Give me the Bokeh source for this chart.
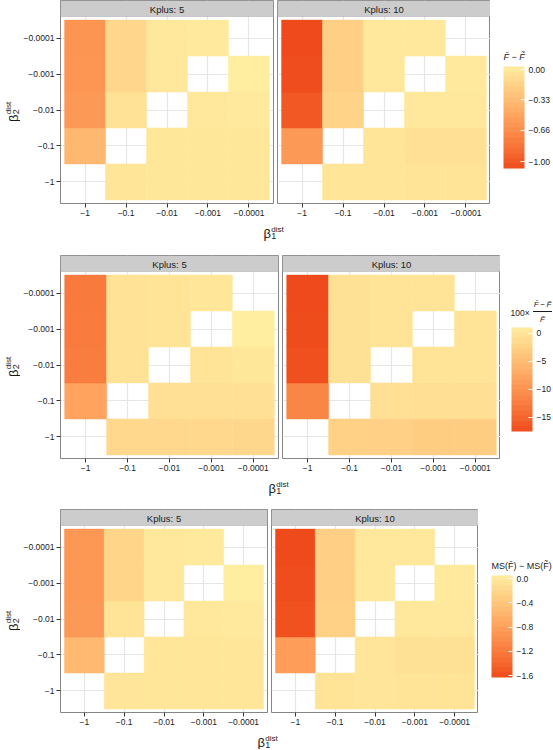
import numpy as np
from bokeh.plotting import figure
from bokeh.models import (FactorRange, Range1d, FixedTicker, Label, BoxAnnotation,
                          ColumnDataSource, LinearColorMapper, ColorBar, AllLabels)
from bokeh.layouts import column, row
from bokeh.embed import file_html
from bokeh.resources import INLINE

# ---------------- data ----------------
beta_levels = ["\u22121", "\u22120.1", "\u22120.01", "\u22120.001", "\u22120.0001"]
cell_x = (["\u22121"] * 4 + ["\u22120.1"] * 4 + ["\u22120.01"] * 4 +
          ["\u22120.001"] * 4 + ["\u22120.0001"] * 4)
cell_y = ["\u22120.1", "\u22120.01", "\u22120.001", "\u22120.0001",
          "\u22121", "\u22120.01", "\u22120.001", "\u22120.0001",
          "\u22121", "\u22120.1", "\u22120.001", "\u22120.0001",
          "\u22121", "\u22120.1", "\u22120.01", "\u22120.0001",
          "\u22121", "\u22120.1", "\u22120.01", "\u22120.001"]
panel_labels = ["Kplus: 5", "Kplus: 10"]

diff_k5 = [-0.36, -0.58, -0.60, -0.61,
           -0.03, -0.05, -0.14, -0.14,
           -0.015, -0.015, -0.012, -0.01,
           -0.015, -0.015, -0.005, 0.0,
           -0.015, -0.015, 0.005, 0.033]
diff_k10 = [-0.58, -1.00, -1.06, -1.076,
            -0.03, -0.16, -0.19, -0.19,
            -0.03, -0.03, -0.01, -0.01,
            -0.04, -0.07, -0.01, -0.005,
            -0.04, -0.07, -0.005, 0.0]
rel_k5 = [-8.0, -12.4, -12.6, -12.8,
          -1.6, -0.4, -0.4, -0.4,
          -1.6, -0.6, -0.2, -0.2,
          -1.6, -0.6, -0.2, 0.1,
          -1.7, -0.6, 0.2, 1.0]
rel_k10 = [-11.5, -17.0, -17.3, -17.5,
           -2.4, -0.5, -0.5, -0.5,
           -2.6, -0.6, -0.2, -0.2,
           -3.0, -0.8, -0.3, -0.1,
           -3.0, -0.8, -0.3, -0.1]
ms_k5 = [-0.54, -0.88, -0.90, -0.90,
         -0.04, -0.06, -0.22, -0.22,
         -0.03, -0.03, -0.02, -0.02,
         -0.03, -0.03, -0.01, 0.0,
         -0.03, -0.03, 0.01, 0.05]
ms_k10 = [-0.84, -1.58, -1.61, -1.633,
          -0.05, -0.26, -0.29, -0.29,
          -0.04, -0.04, -0.02, -0.02,
          -0.05, -0.09, -0.01, -0.01,
          -0.05, -0.09, -0.01, 0.0]

diff_breaks = [0.0, -0.33, -0.66, -1.0]
diff_labels = ["0.00", "\u22120.33", "\u22120.66", "\u22121.00"]
rel_breaks = [0.0, -5.0, -10.0, -15.0]
rel_labels = ["0", "\u22125", "\u221210", "\u221215"]
ms_breaks = [0.0, -0.4, -0.8, -1.2, -1.6]
ms_labels = ["0.0", "\u22120.4", "\u22120.8", "\u22121.2", "\u22121.6"]

# ---------------- colours ----------------
HIGH_COL = "#FFEDA0"
LOW_COL = "#EF4A1B"

_M = np.array([[0.4124, 0.3576, 0.1805],
               [0.2126, 0.7152, 0.0722],
               [0.0193, 0.1192, 0.9505]])
_MI = np.linalg.inv(_M)
_WHITE = _M @ np.ones(3)


def _hex2rgb(h):
    h = h.lstrip("#")
    return np.array([int(h[i:i + 2], 16) for i in (0, 2, 4)], float)


def _f(t):
    d = 6 / 29
    return np.where(t > d ** 3, np.cbrt(t), t / (3 * d * d) + 4 / 29)


def _finv(t):
    d = 6 / 29
    return np.where(t > d, t ** 3, 3 * d * d * (t - 4 / 29))


def rgb2lab(rgb):
    c = rgb / 255.0
    lin = np.where(c <= 0.04045, c / 12.92, ((c + 0.055) / 1.055) ** 2.4)
    xyz = (_M @ lin) / _WHITE
    fx, fy, fz = _f(xyz)
    return np.array([116 * fy - 16, 500 * (fx - fy), 200 * (fy - fz)])


def lab2hex(lab):
    L, a, b = lab
    fy = (L + 16) / 116
    fx = fy + a / 500
    fz = fy - b / 200
    xyz = _finv(np.array([fx, fy, fz])) * _WHITE
    lin = np.clip(_MI @ xyz, 0, 1)
    v = np.where(lin <= 0.0031308, 12.92 * lin, 1.055 * lin ** (1 / 2.4) - 0.055)
    r, g, bb = np.clip(np.round(v * 255), 0, 255).astype(int)
    return "#%02x%02x%02x" % (r, g, bb)


_lo_lab = rgb2lab(_hex2rgb(LOW_COL))
_hi_lab = rgb2lab(_hex2rgb(HIGH_COL))
PALETTE = [lab2hex(_lo_lab + (_hi_lab - _lo_lab) * t) for t in np.linspace(0, 1, 256)]
PALETTE20 = [lab2hex(_lo_lab + (_hi_lab - _lo_lab) * t) for t in (np.arange(20) + 0.5) / 20]

# ---------------- geometry / style ----------------
FONT = "Liberation Sans"
TXT = "#1a1a1a"
TICK = "#333333"
BORDER = "#858585"
GRIDC = "#e6e6e6"
STRIP_FILL = "#cccccc"
STRIP_H = 16
PANEL_H = 187
FRAME_H = STRIP_H + PANEL_H
BOTTOM = 18
YT_W = 20
LEFT = 37
GAP = 2
WIDTH = 552
BAR_W = 21
TS = "\u2009"  # thin space


def base_fig(frame_w, left=0, right=0, **kw):
    p = figure(frame_width=frame_w, frame_height=FRAME_H,
               min_border_left=left, min_border_right=right,
               min_border_top=0, min_border_bottom=BOTTOM,
               toolbar_location=None, tools="", output_backend="svg", **kw)
    p.border_fill_color = "white"
    p.background_fill_color = "white"
    return p


def style_axis(ax):
    ax.axis_line_color = None
    ax.major_tick_line_color = TICK
    ax.major_tick_out = 4
    ax.major_tick_in = 0
    ax.minor_tick_line_color = None
    ax.major_label_text_font = FONT
    ax.major_label_text_font_size = "8.5px"
    ax.major_label_text_color = TXT


def add_label(p, text, x, y, size, align="left", baseline="alphabetic", angle=0,
              style="normal", color=TXT):
    p.add_layout(Label(x=x, y=y, x_units="screen", y_units="screen", text=text,
                       text_font=FONT, text_font_size=f"{size}px", text_align=align,
                       text_baseline=baseline, angle=angle, angle_units="deg",
                       text_font_style=style, text_color=color))


def make_ytitle():
    p = base_fig(YT_W, x_range=Range1d(0, 1), y_range=Range1d(0, 1),
                 x_axis_location=None, y_axis_location=None)
    p.outline_line_color = None
    p.grid.visible = False
    c = PANEL_H / 2
    add_label(p, "\u03b2", 13, c - 12, 13, angle=90)
    add_label(p, "dist", 7.5, c - 4.3, 8, angle=90)
    add_label(p, "2", 15.5, c - 4.3, 9, angle=90)
    return p


def make_panel(values, strip_text, frame_w, mapper, with_y):
    y_end = 4.6 + 5.2 * STRIP_H / PANEL_H
    p = base_fig(frame_w, left=LEFT if with_y else GAP, right=GAP if with_y else 0,
                 x_range=FactorRange(factors=beta_levels, range_padding=0.1,
                                     range_padding_units="absolute"),
                 y_range=Range1d(-0.6, y_end),
                 x_axis_location="below", y_axis_location="left" if with_y else None)
    p.outline_line_color = BORDER
    p.outline_line_width = 1
    yticker = FixedTicker(ticks=list(range(len(beta_levels))))
    if with_y:
        p.yaxis.ticker = yticker
        p.yaxis.major_label_overrides = {i: lab for i, lab in enumerate(beta_levels)}
        style_axis(p.yaxis[0])
        p.yaxis.major_label_standoff = 2
    p.ygrid.ticker = yticker
    style_axis(p.xaxis[0])
    p.xaxis.major_label_standoff = 2
    p.grid.grid_line_color = GRIDC
    p.grid.grid_line_width = 1.2

    src = ColumnDataSource(dict(x=cell_x, y=[beta_levels.index(c) for c in cell_y], v=values))
    cmap = {"field": "v", "transform": mapper}
    p.rect(x="x", y="y", width=1, height=1, source=src, fill_color=cmap,
           line_color=cmap, line_width=0.5)

    # facet strip
    p.add_layout(BoxAnnotation(bottom=4.6, top=y_end, fill_color=STRIP_FILL, fill_alpha=1,
                               line_color=BORDER, line_width=1))
    add_label(p, strip_text, frame_w / 2, PANEL_H + STRIP_H / 2 - 0.5, 9.5,
              align="center", baseline="middle")
    return p


def make_legend(lo, hi, breaks, labels, width, bar_left, bar_top, bar_h):
    p = base_fig(width, x_range=Range1d(0, 1), y_range=Range1d(0, 1),
                 x_axis_location=None, y_axis_location=None)
    p.outline_line_color = None
    p.grid.visible = False
    bar_mapper = LinearColorMapper(palette=PALETTE20, low=lo, high=hi)
    cb = ColorBar(color_mapper=bar_mapper, location=(bar_left, FRAME_H - bar_top - bar_h),
                  width=BAR_W, height=bar_h, padding=0, margin=0,
                  ticker=FixedTicker(ticks=list(breaks)),
                  major_label_overrides=dict(zip(breaks, labels)),
                  major_label_policy=AllLabels(),
                  major_label_text_font=FONT, major_label_text_font_size="8.5px",
                  major_label_text_color=TXT, label_standoff=4,
                  major_tick_line_color="white", major_tick_in=4, major_tick_out=0,
                  minor_tick_line_color=None, bar_line_color=None,
                  border_line_color=None, background_fill_color=None)
    p.add_layout(cb, "center")
    return p


def make_xtitle(h, cx, base):
    p = figure(x_range=Range1d(0, WIDTH), y_range=Range1d(0, h),
               frame_width=WIDTH, frame_height=h,
               min_border_left=0, min_border_right=0, min_border_top=0, min_border_bottom=0,
               x_axis_location=None, y_axis_location=None,
               toolbar_location=None, tools="", output_backend="svg")
    p.outline_line_color = None
    p.grid.visible = False
    p.border_fill_color = "white"
    p.background_fill_color = "white"
    add_label(p, "\u03b2", cx - 9, base, 13)
    add_label(p, "dist", cx - 1.3, base + 4.5, 8)
    add_label(p, "1", cx - 1.3, base - 2, 9)
    return p


rows_cfg = [
    dict(vals=(diff_k5, diff_k10), pw=213, bar_left=13, bar_top=66, bar_h=102,
         breaks=diff_breaks, labels=diff_labels, title="diff", th=34, tb=22),
    dict(vals=(rel_k5, rel_k10), pw=218, bar_left=11, bar_top=72, bar_h=104,
         breaks=rel_breaks, labels=rel_labels, title="rel", th=33, tb=21),
    dict(vals=(ms_k5, ms_k10), pw=207, bar_left=13, bar_top=66, bar_h=102,
         breaks=ms_breaks, labels=ms_labels, title="ms", th=19, tb=7),
]

children = []
for cfg in rows_cfg:
    v5, v10 = cfg["vals"]
    lo = min(min(v5), min(v10))
    hi = max(max(v5), max(v10))
    mapper = LinearColorMapper(palette=PALETTE, low=lo, high=hi)
    yt = make_ytitle()
    f1 = make_panel(v5, panel_labels[0], cfg["pw"], mapper, True)
    f2 = make_panel(v10, panel_labels[1], cfg["pw"], mapper, False)
    w1 = LEFT + cfg["pw"] + GAP
    w2 = GAP + cfg["pw"]
    leg_w = WIDTH - YT_W - w1 - w2
    bl = cfg["bar_left"]
    leg = make_legend(lo, hi, cfg["breaks"], cfg["labels"], leg_w, bl,
                      cfg["bar_top"], cfg["bar_h"])
    top_y = FRAME_H - cfg["bar_top"]  # bar top, measured from frame bottom
    if cfg["title"] == "diff":
        add_label(leg, "F\u0304 \u2212 F\u0303", bl, top_y + 10, 9, baseline="middle",
                  style="italic")
    elif cfg["title"] == "rel":
        add_label(leg, "100\u00d7", bl - 1, top_y + 15, 8.5, baseline="middle")
        add_label(leg, "F\u0304" + TS + "\u2212" + TS + "F\u0303", bl + 31, top_y + 23.5, 8,
                  align="center", baseline="middle", style="italic")
        leg.add_layout(BoxAnnotation(left=bl + 21.5, right=bl + 40.5,
                                     bottom=top_y + 15.6, top=top_y + 16.4,
                                     left_units="screen", right_units="screen",
                                     bottom_units="screen", top_units="screen",
                                     fill_color=TXT, fill_alpha=1, line_color=None))
        add_label(leg, "F\u0303", bl + 31, top_y + 8.5, 8, align="center", baseline="middle",
                  style="italic")
    else:
        add_label(leg, "MS(F\u0304) \u2212 MS(F\u0303)", bl, top_y + 10, 9, baseline="middle")
    children.append(row(yt, f1, f2, leg))
    cx = YT_W + LEFT + cfg["pw"] + GAP  # centre of the two panels
    children.append(make_xtitle(cfg["th"], cx, cfg["tb"]))

layout = column(*children)
open("out.html", "w").write(file_html(layout, INLINE))
